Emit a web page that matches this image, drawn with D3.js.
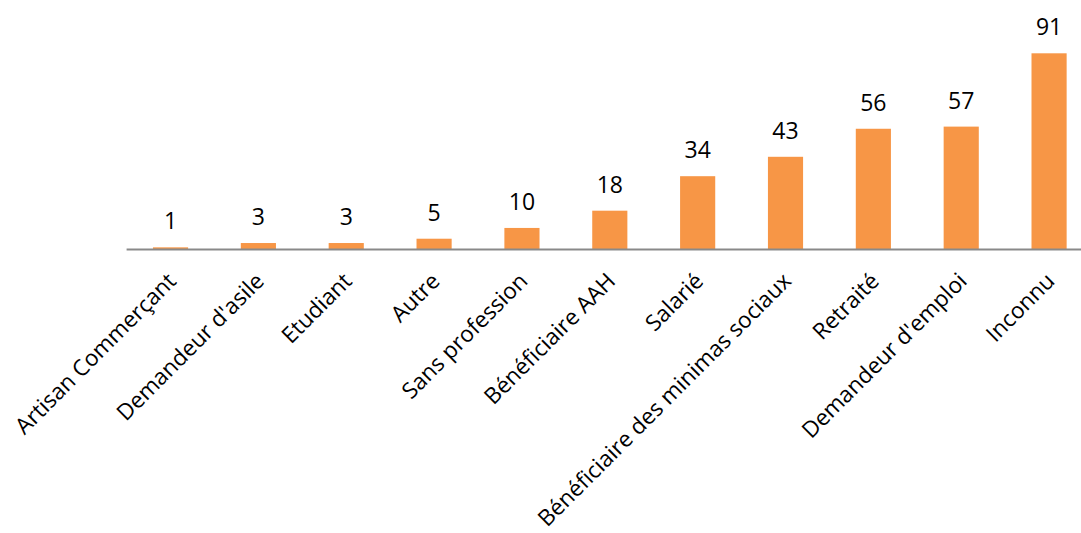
<!DOCTYPE html>
<html><head><meta charset="utf-8">
<script src="https://cdn.jsdelivr.net/npm/d3@7"></script>
<style>body{margin:0;background:#fff}svg{display:block}</style>
</head><body>
<svg id="c" width="1081" height="533"></svg>
<script>
const categories = ["Artisan Commerçant","Demandeur d'asile","Etudiant","Autre","Sans profession","Bénéficiaire AAH","Salarié","Bénéficiaire des minimas sociaux","Retraité","Demandeur d'emploi","Inconnu"];
const values = [1,3,3,5,10,18,34,43,56,57,91];

const svg = d3.select("#c");
const font = "'Open Sans', Calibri, sans-serif";
const x = d3.scaleBand().domain(categories).range([126.6, 1093]).paddingInner(0.6).paddingOuter(0.3);
const y = d3.scaleLinear().domain([0, 100]).range([249.5, 33.9]);

svg.selectAll("rect.bar").data(values).join("rect")
  .attr("class","bar")
  .attr("x",(d,i)=>x(categories[i]))
  .attr("width",x.bandwidth())
  .attr("y",d=>y(d))
  .attr("height",d=>y(0)-y(d))
  .attr("fill","#F79646");

svg.selectAll("text.val").data(values).join("text")
  .attr("class","val")
  .attr("x",(d,i)=>x(categories[i])+x.bandwidth()/2)
  .attr("y",d=>y(d)-18)
  .attr("text-anchor","middle")
  .attr("font-family",font).attr("font-size",23).attr("fill","#000")
  .text(d=>d);

const axis = d3.axisBottom(x).tickSize(0).tickPadding(0);
const g = svg.append("g").attr("transform",`translate(0,${y(0)})`).call(axis);
g.select(".domain").attr("stroke","#898989").attr("stroke-width",2).attr("d","M126.6,0H1093");
g.selectAll(".tick text")
  .attr("font-family",font).attr("font-size",22.5).attr("fill","#000")
  .attr("text-anchor","end")
  .attr("dy",0)
  .attr("transform","translate(7,33) rotate(-45)");
</script>
</body></html>
